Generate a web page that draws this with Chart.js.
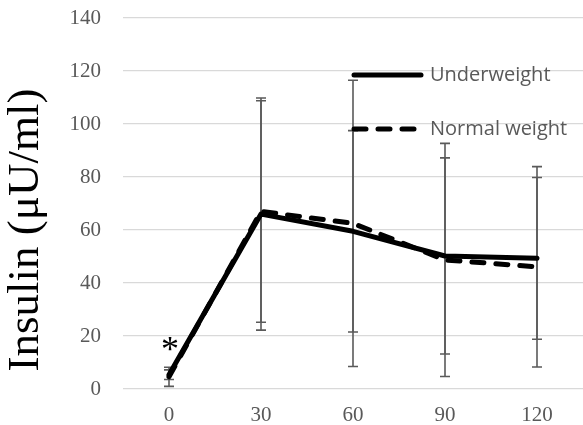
<!DOCTYPE html>
<html>
<head>
<meta charset="utf-8">
<script src="https://cdn.jsdelivr.net/npm/chart.js@4.4.1/dist/chart.umd.min.js"></script>
<style>
  html, body { margin: 0; padding: 0; background: #ffffff; }
  #wrap { width: 583px; height: 425px; }
</style>
</head>
<body>
<div id="wrap"><canvas id="chart" width="583" height="425"></canvas></div>
<script>
// Time after glucose load (min)
const timePoints = ['0', '30', '60', '90', '120'];

// Insulin (µU/ml): mean and standard deviation per group
const underweightMean = [5.4, 66.0, 59.5, 50.2, 49.3];
const underweightSD   = [1.8, 43.8, 38.0, 37.0, 30.5];
const normalMean      = [4.6, 67.0, 62.5, 48.7, 46.1];
const normalSD        = [3.6, 41.8, 54.0, 44.0, 37.8];

const yTicks = [0, 20, 40, 60, 80, 100, 120, 140];
const yTitle = 'Insulin (\u03BCU/ml)';
const seriesNames = ['Underweight', 'Normal weight'];
const significanceMarks = [{ index: 0, value: 10.6, text: '*' }];

const serif = '"Liberation Serif", "Times New Roman", serif';
const sans = '"Open Sans", "Liberation Sans", sans-serif';
const tickGray = '#595959';

// Mean ± SD whiskers, drawn underneath the lines
const errorBarPlugin = {
  id: 'errorBars',
  beforeDatasetsDraw(chart) {
    const { ctx, scales: { x, y } } = chart;
    ctx.save();
    ctx.strokeStyle = '#5a5a5a';
    ctx.lineWidth = 1.6;
    chart.data.datasets.forEach(ds => {
      ds.data.forEach((m, i) => {
        const sd = ds.sd[i];
        const px = x.getPixelForValue(i);
        const top = y.getPixelForValue(m + sd);
        const bot = y.getPixelForValue(m - sd);
        const cap = 5;
        ctx.beginPath();
        ctx.moveTo(px, top); ctx.lineTo(px, bot);
        ctx.moveTo(px - cap, top); ctx.lineTo(px + cap, top);
        ctx.moveTo(px - cap, bot); ctx.lineTo(px + cap, bot);
        ctx.stroke();
      });
    });
    ctx.restore();
  }
};

// Legend, axis title and significance marker
const decorPlugin = {
  id: 'decor',
  afterDraw(chart) {
    const { ctx, scales: { x, y } } = chart;
    ctx.save();

    // rotated y-axis title
    ctx.translate(26, 230);
    ctx.rotate(-Math.PI / 2);
    ctx.fillStyle = '#000000';
    ctx.font = '45px ' + serif;
    ctx.textAlign = 'center';
    ctx.textBaseline = 'middle';
    ctx.fillText(yTitle, 0, 0);
    ctx.restore();

    // significance asterisk
    ctx.save();
    ctx.fillStyle = '#000000';
    ctx.font = '36px ' + serif;
    ctx.textAlign = 'center';
    ctx.textBaseline = 'alphabetic';
    significanceMarks.forEach(mk => {
      ctx.fillText(mk.text, x.getPixelForValue(mk.index) + 1, y.getPixelForValue(mk.value));
    });
    ctx.restore();

    // legend entries
    ctx.save();
    ctx.lineCap = 'round';
    ctx.lineWidth = 5;
    ctx.strokeStyle = '#000000';
    const rows = [
      { y: 75, x0: 354, x1: 421, dash: [] },
      { y: 129, x0: 354, x1: 416, dash: [12, 12] }
    ];
    rows.forEach((r, k) => {
      ctx.setLineDash(r.dash);
      ctx.beginPath();
      ctx.moveTo(r.x0, r.y); ctx.lineTo(r.x1, r.y);
      ctx.stroke();
      ctx.setLineDash([]);
      ctx.fillStyle = tickGray;
      ctx.font = '20px ' + sans;
      ctx.textAlign = 'left';
      ctx.textBaseline = 'middle';
      ctx.fillText(seriesNames[k], 430, r.y);
    });
    ctx.restore();
  }
};

new Chart(document.getElementById('chart'), {
  type: 'line',
  data: {
    labels: timePoints,
    datasets: [
      {
        label: seriesNames[0],
        data: underweightMean,
        sd: underweightSD,
        borderColor: '#000000',
        borderWidth: 5,
        borderCapStyle: 'round',
        borderJoinStyle: 'round',
        pointRadius: 0,
        tension: 0,
        fill: false
      },
      {
        label: seriesNames[1],
        data: normalMean,
        sd: normalSD,
        borderColor: '#000000',
        borderWidth: 5,
        borderDash: [12, 12],
        borderCapStyle: 'round',
        borderJoinStyle: 'round',
        pointRadius: 0,
        tension: 0,
        fill: false
      }
    ]
  },
  options: {
    responsive: false,
    animation: false,
    devicePixelRatio: 1,
    layout: { padding: { top: 18, right: 0, left: 0, bottom: 0 } },
    plugins: {
      legend: { display: false },
      tooltip: { enabled: false }
    },
    scales: {
      x: {
        type: 'category',
        offset: true,
        grid: { display: false },
        border: { display: false },
        ticks: { color: tickGray, font: { family: serif, size: 21 }, padding: 6, maxRotation: 0 },
        afterFit(scale) { scale.height = 36; }
      },
      y: {
        min: 0,
        max: 140,
        afterBuildTicks(scale) { scale.ticks = yTicks.map(v => ({ value: v })); },
        grid: { color: '#d9d9d9', lineWidth: 1.2, drawTicks: false },
        border: { display: false },
        ticks: { color: tickGray, font: { family: serif, size: 21 }, padding: 22 },
        afterFit(scale) {
          scale.width = 123;
          scale.paddingTop = 0;
          scale.paddingBottom = 0;
        }
      }
    }
  },
  plugins: [errorBarPlugin, decorPlugin]
});
</script>
</body>
</html>
